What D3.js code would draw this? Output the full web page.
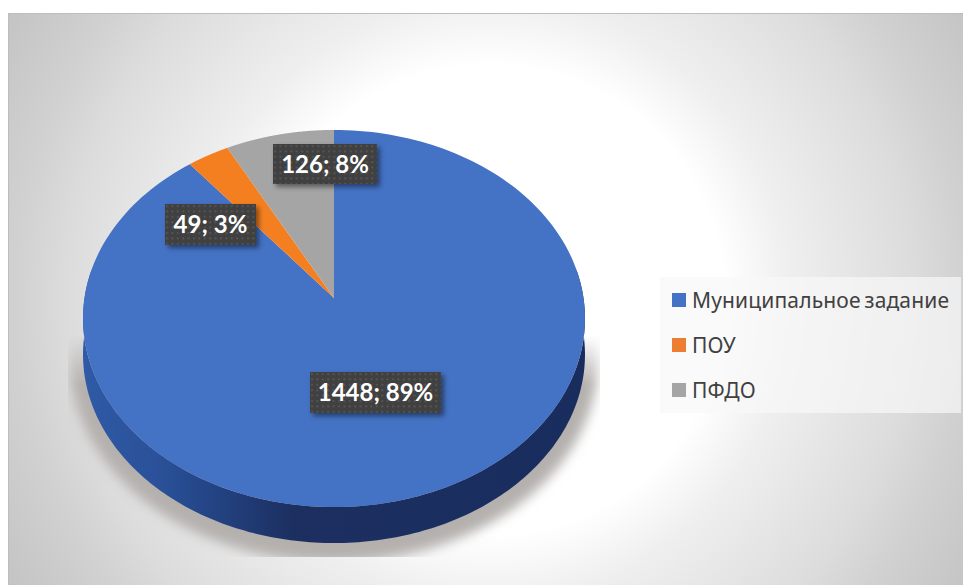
<!DOCTYPE html>
<html lang="en">
<head>
  <meta charset="UTF-8">
  <title>Муниципальное задание, ПОУ, ПФДО</title>
  <style>
    html, body { margin: 0; padding: 0; background: #fff; overflow: hidden; }
    svg { display: block; }
  </style>
  <script src="https://d3js.org/d3.v7.min.js"></script>
</head>
<body>
  <div id="chart"></div>
  <script>
    const categories = ["Муниципальное задание", "ПОУ", "ПФДО"];
    const values = [1448, 49, 126];
    const percents = [89, 3, 8];
    const colors = ["#4472c4", "#f47f20", "#a5a5a5"];
    const legendColors = ["#4472c4", "#ed7d31", "#a5a5a5"];

    // label boxes, left/top, same order as categories
    const labelPos = [[310, 372], [165, 204], [273, 144]];
    const labelSize = [[131, 41], [91, 41], [104, 40]];

    const svg = d3.select("#chart")
      .append("svg")
      .attr("width", 963)
      .attr("height", 585);

    const defs = svg.append("defs");

    const bg = defs.append("radialGradient")
      .attr("id", "bg")
      .attr("gradientUnits", "userSpaceOnUse")
      .attr("cx", 490).attr("cy", 300).attr("r", 565);
    bg.selectAll("stop")
      .data([[0, "#ffffff"], [0.415, "#ffffff"], [0.53, "#efefef"], [0.75, "#dcdcdc"], [0.84, "#d1d1d1"], [1, "#c3c3c3"]])
      .join("stop")
      .attr("offset", d => d[0])
      .attr("stop-color", d => d[1]);

    const side = defs.append("linearGradient")
      .attr("id", "side")
      .attr("gradientUnits", "userSpaceOnUse")
      .attr("x1", 83).attr("x2", 584).attr("y1", 0).attr("y2", 0);
    side.selectAll("stop")
      .data([[0, "#2f5aa6"], [0.15, "#2a5199"], [0.24, "#244688"], [0.42, "#1c2f60"], [1, "#182d5e"]])
      .join("stop")
      .attr("offset", d => d[0])
      .attr("stop-color", d => d[1]);

    const pat = defs.append("pattern")
      .attr("id", "dots")
      .attr("patternUnits", "userSpaceOnUse")
      .attr("width", 5.4).attr("height", 5.4);
    pat.append("rect").attr("width", 5.4).attr("height", 5.4).attr("fill", "#404040");
    pat.append("rect").attr("x", 1).attr("y", 1).attr("width", 2).attr("height", 2).attr("fill", "#555555");

    defs.append("filter").attr("id", "blur")
      .attr("x", "-20%").attr("y", "-20%").attr("width", "140%").attr("height", "140%")
      .append("feGaussianBlur").attr("stdDeviation", 6);

    const boxShadow = defs.append("filter").attr("id", "boxShadow")
      .attr("x", "-20%").attr("y", "-30%").attr("width", "140%").attr("height", "160%");
    boxShadow.append("feDropShadow")
      .attr("dx", 3).attr("dy", 3).attr("stdDeviation", 2.5)
      .attr("flood-color", "#000").attr("flood-opacity", 0.45);

    // ground shadow fades in from the top and is cut at left/right/bottom
    const fade = defs.append("linearGradient")
      .attr("id", "fade")
      .attr("gradientUnits", "userSpaceOnUse")
      .attr("x1", 0).attr("x2", 0).attr("y1", 335).attr("y2", 385);
    fade.selectAll("stop")
      .data([[0, "#000"], [1, "#fff"]])
      .join("stop")
      .attr("offset", d => d[0])
      .attr("stop-color", d => d[1]);
    defs.append("mask").attr("id", "shadowMask")
      .attr("maskUnits", "userSpaceOnUse")
      .attr("x", 68).attr("y", 335).attr("width", 532).attr("height", 222)
      .append("rect")
      .attr("x", 68).attr("y", 335).attr("width", 532).attr("height", 222)
      .attr("fill", "url(#fade)");

    // frame
    svg.append("rect")
      .attr("x", 8).attr("y", 13).attr("width", 955).attr("height", 572)
      .attr("fill", "url(#bg)");
    svg.append("path")
      .attr("d", "M8.5,585V13.5H963")
      .attr("fill", "none")
      .attr("stroke", "#bdbdbd");

    // perspective tilt of the pie: unit circle to screen
    const tilt = { cx: 334, k: 249.5, a: 153.9, b: 298, c: -0.1088, depth: 36 };
    function project(angle, r) {
      const x = r * Math.sin(angle);
      const y = -r * Math.cos(angle);
      const w = tilt.c * y + 1;
      return [tilt.cx + tilt.k * x / w, (tilt.a * y + tilt.b) / w];
    }

    const pie = d3.pie().sort(null);
    const arcs = pie(values);
    const line = d3.line();

    function sampleAngles(a0, a1) {
      return d3.range(0, 1.0001, 1 / 200).map(t => a0 + (a1 - a0) * t);
    }

    function slicePath(d) {
      const rim = sampleAngles(d.startAngle, d.endAngle).map(a => project(a, 1));
      return line([project(0, 0), ...rim]) + "Z";
    }

    // the wall only shows on the lower half
    function wallPath(a0, a1, dy) {
      const rim = sampleAngles(a0, a1).map(a => project(a, 1));
      const low = rim.slice().reverse().map(p => [p[0], p[1] + dy]);
      return line([...rim, ...low]) + "Z";
    }

    // ground shadow
    svg.append("g")
      .attr("mask", "url(#shadowMask)")
      .append("path")
      .attr("d", wallPath(Math.PI * 0.45, Math.PI * 1.55, tilt.depth + 6))
      .attr("fill", "#b4b0ae")
      .attr("stroke", "#b4b0ae")
      .attr("stroke-width", 26)
      .attr("filter", "url(#blur)");

    // wall
    svg.append("path")
      .attr("d", wallPath(Math.PI * 0.45, Math.PI * 1.55, tilt.depth))
      .attr("fill", "url(#side)");

    // top face
    svg.append("g")
      .selectAll("path")
      .data(arcs)
      .join("path")
      .attr("d", slicePath)
      .attr("fill", (d, i) => colors[i]);

    // data labels
    const labels = svg.append("g")
      .selectAll("g")
      .data(values)
      .join("g")
      .attr("transform", (d, i) => `translate(${labelPos[i][0]},${labelPos[i][1]})`);

    labels.append("rect")
      .attr("width", (d, i) => labelSize[i][0])
      .attr("height", (d, i) => labelSize[i][1])
      .attr("fill", "url(#dots)")
      .attr("filter", "url(#boxShadow)");

    labels.append("text")
      .attr("x", (d, i) => labelSize[i][0] / 2)
      .attr("y", (d, i) => labelSize[i][1] / 2 + 8.5)
      .attr("text-anchor", "middle")
      .attr("font-family", "Lato, 'Open Sans', sans-serif")
      .attr("font-weight", 700)
      .attr("font-size", 24)
      .attr("fill", "#fff")
      .text((d, i) => `${d}; ${percents[i]}%`);

    // legend
    const legend = svg.append("g");
    legend.append("rect")
      .attr("x", 660).attr("y", 277).attr("width", 301).attr("height", 136)
      .attr("fill", "#f8f8f8").attr("fill-opacity", 0.7);

    const legendY = d3.scalePoint()
      .domain(categories)
      .range([300, 390]);

    const items = legend.selectAll("g")
      .data(categories)
      .join("g")
      .attr("transform", d => `translate(672,${legendY(d)})`);

    items.append("rect")
      .attr("y", -7).attr("width", 14).attr("height", 14)
      .attr("fill", (d, i) => legendColors[i]);

    items.append("text")
      .attr("x", 20).attr("y", 8)
      .attr("font-family", "'Noto Sans', 'Open Sans', sans-serif")
      .attr("font-size", 21)
      .attr("word-spacing", -2)
      .attr("letter-spacing", 0.15)
      .attr("fill", "#404040")
      .text(d => d);
  </script>
</body>
</html>
